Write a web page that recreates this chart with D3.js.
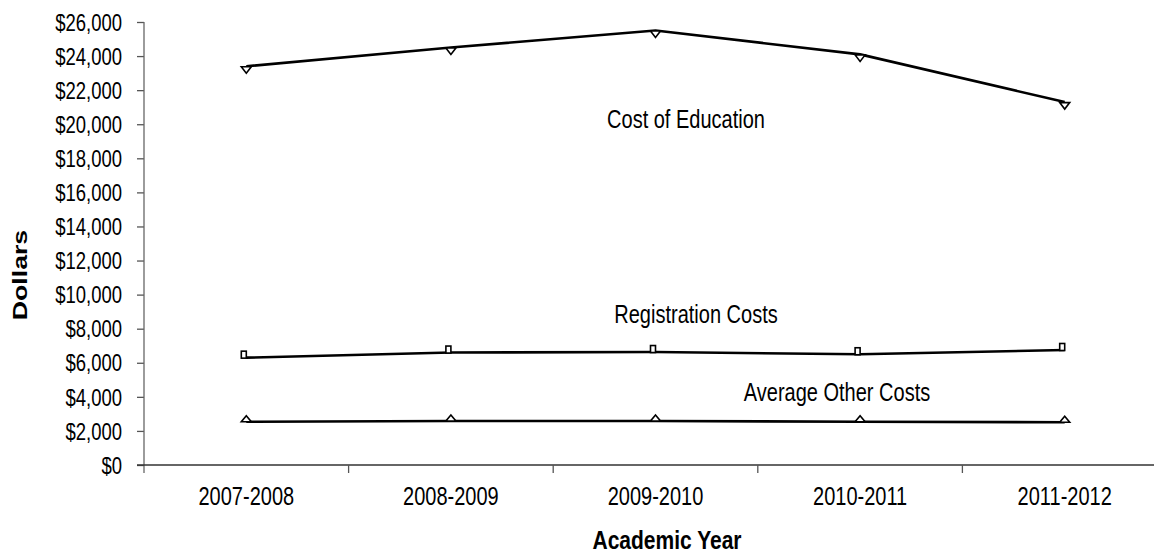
<!DOCTYPE html>
<html>
<head>
<meta charset="utf-8">
<script src="https://cdn.jsdelivr.net/npm/d3@7"></script>
<style>
  body { margin: 0; background: #fff; }
  svg { display: block; }
  text { font-family: "Liberation Sans", Arial, sans-serif; fill: #000; }
</style>
</head>
<body>
<svg id="chart" width="1154" height="554"></svg>
<script>
// Academic years on the category axis
const years = ["2007-2008", "2008-2009", "2009-2010", "2010-2011", "2011-2012"];

// Dollar amounts per year
const costOfEducation   = [23400, 24500, 25500, 24100, 21300];
const registrationCosts = [6300, 6600, 6630, 6500, 6750];
const averageOtherCosts = [2540, 2580, 2580, 2540, 2510];

// Value axis ticks
const yTicks = d3.range(0, 26001, 2000);

// Series names written next to each line
const seriesNames = ["Cost of Education", "Registration Costs", "Average Other Costs"];

const svg = d3.select("#chart");
const S = 1.27; // tall, narrow lettering of the original typeface

const x = d3.scaleBand().domain(years).range([144, 1167]);
const y = d3.scaleLinear().domain([0, 26000]).range([465, 22]);
const cx = d => x(d) + x.bandwidth() / 2;

// ---- value axis ----
const yAxis = svg.append("g")
  .attr("transform", "translate(144,0)")
  .call(d3.axisLeft(y).tickValues(yTicks).tickSize(7).tickSizeOuter(0)
        .tickFormat(d => "$" + d3.format(",")(d)));
yAxis.select(".domain").remove();
yAxis.selectAll(".tick line").attr("stroke", "#555").attr("stroke-width", 1.3);
yAxis.selectAll(".tick text")
  .attr("x", -22).attr("dy", "0.35em")
  .attr("transform", `scale(1,${S})`)
  .style("font-size", "18.5px")
  .style("font-family", "'Liberation Sans', Arial, sans-serif")
  .attr("fill", "#000");
svg.append("line")
  .attr("x1", 144).attr("x2", 144)
  .attr("y1", y(26000)).attr("y2", y(0) + 8)
  .attr("stroke", "#666").attr("stroke-width", 1.3);

// ---- category axis ----
svg.append("line")
  .attr("x1", 137).attr("x2", 1154)
  .attr("y1", y(0)).attr("y2", y(0))
  .attr("stroke", "#333").attr("stroke-width", 1.3);
const bounds = d3.range(years.length + 1).map(i => x.range()[0] + i * x.bandwidth());
svg.append("g").selectAll("line").data(bounds.slice(1)).join("line")
  .attr("x1", d => d).attr("x2", d => d)
  .attr("y1", y(0)).attr("y2", y(0) + 8)
  .attr("stroke", "#555").attr("stroke-width", 1.3);

const xAxis = svg.append("g")
  .attr("transform", `translate(0,${y(0)})`)
  .call(d3.axisBottom(x).tickSize(0));
xAxis.select(".domain").remove();
xAxis.selectAll(".tick text")
  .attr("y", 40.5 / S).attr("dy", 0)
  .attr("transform", `scale(1,${S})`)
  .style("font-size", "20px")
  .style("font-family", "'Liberation Sans', Arial, sans-serif")
  .attr("fill", "#000");

// ---- axis titles ----
svg.append("g").attr("transform", `translate(667,548.5) scale(1,${S})`)
  .append("text").attr("text-anchor", "middle")
  .style("font-size", "21px").style("font-weight", "bold")
  .text("Academic Year");
svg.append("g").attr("transform", `translate(27,275) scale(1,${S}) rotate(-90)`)
  .append("text").attr("text-anchor", "middle")
  .style("font-size", "21px").style("font-weight", "bold")
  .text("Dollars");

// ---- lines ----
const line = d3.line().x((d, i) => cx(years[i])).y(d => y(d));
[costOfEducation, registrationCosts, averageOtherCosts].forEach(vals => {
  svg.append("path").datum(vals)
    .attr("d", line)
    .attr("fill", "none").attr("stroke", "#000")
    .attr("stroke-width", 2.6).attr("stroke-linejoin", "round");
});

// ---- markers ----
const markerStyle = sel => sel.attr("fill", "#fff").attr("stroke", "#000").attr("stroke-width", 1.6);

// downward triangles hanging under the top line
svg.append("g").selectAll("path").data(costOfEducation).join("path")
  .attr("d", (d, i) => {
    const px = cx(years[i]), py = y(d);
    return `M${px - 5},${py + 0.5}L${px + 5},${py + 0.5}L${px},${py + 7}Z`;
  }).call(markerStyle);

// small squares resting on the middle line
svg.append("g").selectAll("rect").data(registrationCosts).join("rect")
  .attr("x", (d, i) => cx(years[i]) - 5)
  .attr("y", d => y(d) - 6.5)
  .attr("width", 5).attr("height", 7)
  .call(markerStyle);

// upward triangles sitting on the bottom line
svg.append("g").selectAll("path").data(averageOtherCosts).join("path")
  .attr("d", (d, i) => {
    const px = cx(years[i]), py = y(d);
    return `M${px - 5},${py}L${px + 5},${py}L${px},${py - 6}Z`;
  }).call(markerStyle);

// ---- series names ----
const nameSpots = [
  { x: 686, y: 127.5 },
  { x: 696, y: 323 },
  { x: 837, y: 400.5 }
];
seriesNames.forEach((name, i) => {
  svg.append("g").attr("transform", `translate(${nameSpots[i].x},${nameSpots[i].y}) scale(1,${S})`)
    .append("text").attr("text-anchor", "middle")
    .style("font-size", "20px")
    .text(name);
});
</script>
</body>
</html>
